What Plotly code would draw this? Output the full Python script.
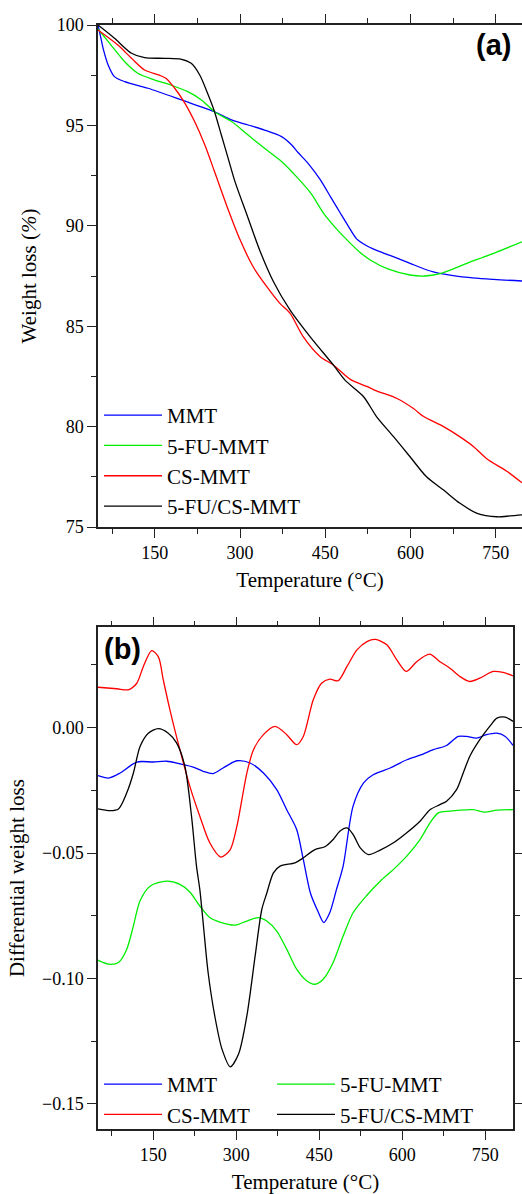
import plotly.graph_objects as go

# ---------------- data: panel (a) TGA ----------------
mmt_T = [50, 54, 59, 68, 79, 97, 138, 197, 255, 285, 314, 343, 373, 390, 402, 420, 441, 460,
         476, 490, 505, 525, 546, 575, 599, 640, 687, 746, 796]
mmt_W = [100, 99.5, 98.84, 98.0, 97.43, 97.18, 96.85, 96.27, 95.68, 95.27, 95.02, 94.77, 94.44,
         94.05, 93.65, 93.1, 92.3, 91.4, 90.65, 90.0, 89.35, 88.97, 88.71, 88.4, 88.13, 87.7,
         87.47, 87.33, 87.25]

fumt_T = [50, 73, 97, 120, 150, 179, 208, 232, 255, 285, 314, 343, 373, 402, 425, 447, 468, 488,
          510, 529, 560, 599, 625, 650, 699, 746, 796]
fumt_W = [99.8, 99.0, 98.17, 97.6, 97.26, 97.0, 96.68, 96.27, 95.68, 95.19, 94.52, 93.86, 93.2,
          92.36, 91.6, 90.62, 89.9, 89.3, 88.7, 88.3, 87.85, 87.55, 87.5, 87.6, 88.13, 88.63, 89.2]

cs_T = [50, 85, 109, 132, 158, 170, 185, 203, 220, 238, 255, 276, 300, 323, 347, 370, 388, 411,
        441, 464, 494, 523, 541, 576, 605, 623, 658, 681, 711, 734, 770, 796]
cs_W = [99.75, 99.0, 98.34, 97.76, 97.5, 97.34, 96.85, 96.1, 95.19, 94.02, 92.7, 91.04, 89.3,
        87.96, 86.97, 86.14, 85.64, 84.48, 83.48, 83.07, 82.35, 82.0, 81.77, 81.4, 80.9, 80.5,
        80.0, 79.6, 79.0, 78.4, 77.76, 77.2]

fucs_T = [50, 79, 109, 132, 167, 197, 214, 229, 244, 255, 267, 279, 291, 312, 335, 359, 388, 423,
          464, 485, 517, 540, 570, 599, 628, 658, 687, 717, 752, 775, 796]
fucs_W = [100, 99.34, 98.59, 98.37, 98.34, 98.29, 98.09, 97.51, 96.51, 95.68, 94.52, 93.36, 92.2,
          90.55, 88.75, 87.2, 85.8, 84.48, 83.07, 82.3, 81.5, 80.5, 79.5, 78.5, 77.5, 76.84,
          76.18, 75.68, 75.51, 75.55, 75.6]

# ---------------- data: panel (b) DTG ----------------
mmt_dT = [50, 69, 90, 120, 150, 174, 198, 222, 240, 258, 276, 301, 325, 349, 373, 391, 409, 421,
          434, 447, 458, 469, 481, 493, 511, 530, 548, 578, 608, 632, 656, 680, 701, 716, 734,
          752, 771, 786, 800]
mmt_D = [-0.0191, -0.0201, -0.0181, -0.0137, -0.0137, -0.0134, -0.0144, -0.0157, -0.0174,
         -0.0183, -0.0161, -0.0132, -0.0141, -0.0181, -0.0247, -0.0327, -0.0406, -0.0525,
         -0.0660, -0.0730, -0.0777, -0.0737, -0.0645, -0.0552, -0.0313, -0.0220, -0.0187,
         -0.0161, -0.0128, -0.0110, -0.0088, -0.0071, -0.0035, -0.0035, -0.0042, -0.0028,
         -0.0022, -0.0035, -0.0071]

fumt_dT = [50, 69, 87, 102, 114, 126, 144, 174, 198, 216, 234, 252, 270, 298, 319, 340, 355,
           373, 391, 409, 427, 442, 457, 475, 493, 511, 536, 560, 584, 608, 632, 650, 665, 686,
           704, 728, 749, 771, 800]
fumt_D = [-0.0927, -0.0943, -0.0936, -0.0883, -0.0790, -0.0690, -0.0632, -0.0612, -0.0625,
          -0.0655, -0.0711, -0.0757, -0.0775, -0.0787, -0.0771, -0.0757, -0.0771, -0.0811,
          -0.0883, -0.0963, -0.1009, -0.1023, -0.1003, -0.0936, -0.0831, -0.0738, -0.0668,
          -0.0612, -0.0565, -0.0512, -0.0446, -0.0380, -0.0340, -0.0333, -0.0329, -0.0327,
          -0.0337, -0.0329, -0.0327]

cs_dT = [50, 84, 105, 120, 132, 147, 159, 168, 180, 198, 216, 234, 252, 272, 289, 301, 319, 331,
         349, 370, 391, 409, 421, 439, 454, 469, 484, 500, 518, 536, 551, 572, 590, 607, 626,
         649, 668, 686, 704, 722, 740, 764, 782, 800]
cs_D = [0.0161, 0.0155, 0.0151, 0.0177, 0.0244, 0.0307, 0.0283, 0.0190, 0.0071, -0.0088,
        -0.0234, -0.0353, -0.0459, -0.0516, -0.0486, -0.0393, -0.0181, -0.0088, -0.0028,
        0.0005, -0.0028, -0.0068, -0.0035, 0.0111, 0.0177, 0.0193, 0.0187, 0.0244, 0.0310,
        0.0343, 0.0352, 0.0330, 0.0270, 0.0224, 0.0263, 0.0293, 0.0263, 0.0237, 0.0204,
        0.0184, 0.0197, 0.0224, 0.0220, 0.0206]

fucs_dT = [50, 72, 87, 102, 114, 126, 141, 159, 177, 192, 207, 219, 228, 234, 240, 249, 261,
           274, 289, 304, 319, 334, 346, 355, 367, 379, 406, 421, 442, 460, 475, 487, 500, 511,
           524, 539, 560, 584, 608, 632, 650, 668, 680, 698, 710, 722, 740, 759, 771, 786, 800]
fucs_D = [-0.0324, -0.0331, -0.0324, -0.0260, -0.0181, -0.0075, -0.0022, -0.0004, -0.0022,
          -0.0061, -0.0154, -0.0353, -0.0552, -0.0645, -0.0777, -0.0976, -0.1149, -0.1281,
          -0.1352, -0.1301, -0.1149, -0.0910, -0.0725, -0.0660, -0.0579, -0.0552, -0.0539,
          -0.0519, -0.0486, -0.0475, -0.0446, -0.0413, -0.0400, -0.0426, -0.0479, -0.0506,
          -0.0488, -0.0459, -0.0419, -0.0373, -0.0327, -0.0307, -0.0293, -0.0247, -0.0181,
          -0.0114, -0.0048, 0.0008, 0.0038, 0.0042, 0.0025]

names = ["MMT", "5-FU-MMT", "CS-MMT", "5-FU/CS-MMT"]
colors = ["#0000FF", "#00EE00", "#FF0000", "#000000"]
tga = [(mmt_T, mmt_W), (fumt_T, fumt_W), (cs_T, cs_W), (fucs_T, fucs_W)]
dtg = [(mmt_dT, mmt_D), (fumt_dT, fumt_D), (cs_dT, cs_D), (fucs_dT, fucs_D)]
# bottom legend: two columns (MMT / CS-MMT) and (5-FU-MMT / 5-FU/CS-MMT)
dtg_legend = ["legend2", "legend3", "legend2", "legend3"]

W, H = 522, 1194
SERIF = "Liberation Serif, Times New Roman, serif"

fig = go.Figure()
for n, c, (x, y) in zip(names, colors, tga):
    fig.add_trace(go.Scatter(x=x, y=y, mode="lines", name=n,
                             line=dict(color=c, width=1.3, shape="spline", smoothing=0.8),
                             xaxis="x", yaxis="y", legend="legend"))
for n, c, (x, y), lg in zip(names, colors, dtg, dtg_legend):
    fig.add_trace(go.Scatter(x=x, y=y, mode="lines", name=n,
                             line=dict(color=c, width=1.3, shape="spline", smoothing=0.8),
                             xaxis="x2", yaxis="y2", legend=lg))

tickfont = dict(family=SERIF, size=18, color="black")
titlefont = dict(family=SERIF, size=21, color="black")
legfont = dict(family=SERIF, size=21, color="black")
axcommon = dict(showgrid=False, zeroline=False, showline=True, linecolor="#222",
                linewidth=1.5, ticks="outside", ticklen=9, tickwidth=1.3, tickcolor="#222",
                tickfont=tickfont, automargin=False)

fig.update_layout(
    width=W, height=H, autosize=False,
    margin=dict(l=0, r=0, t=0, b=0),
    plot_bgcolor="white", paper_bgcolor="white",
    xaxis=dict(domain=[98 / W, 1.0], range=[50, 796], anchor="y", tick0=0, dtick=150,
               minor=dict(dtick=75, tick0=0, ticks="outside", ticklen=5, tickwidth=1.2,
                          tickcolor="#222"),
               mirror="ticks",
               title=dict(text="Temperature (°C)", font=titlefont, standoff=10), **axcommon),
    yaxis=dict(domain=[1 - 527 / H, 1 - 25 / H], range=[75, 100], anchor="x", dtick=5,
               minor=dict(dtick=2.5, ticks="outside", ticklen=5, tickwidth=1.2,
                          tickcolor="#222"),
               mirror=False,
               title=dict(text="Weight loss (<i>%</i>)", font=titlefont, standoff=14),
               **axcommon),
    xaxis2=dict(domain=[98 / W, 513 / W], range=[50, 800], anchor="y2", tick0=0, dtick=150,
                minor=dict(dtick=75, tick0=0, ticks="outside", ticklen=5, tickwidth=1.2,
                           tickcolor="#222"),
                mirror="ticks",
                title=dict(text="Temperature (°C)", font=titlefont, standoff=11), **axcommon),
    yaxis2=dict(domain=[1 - 1129 / H, 1 - 627.3 / H], range=[-0.16, 0.04], anchor="x2",
                dtick=0.05, tickformat=".2f",
                minor=dict(dtick=0.025, ticks="outside", ticklen=5, tickwidth=1.2,
                           tickcolor="#222"),
                mirror="ticks",
                title=dict(text="Differential weight loss", font=titlefont, standoff=12),
                **axcommon),
    legend=dict(x=99 / W, y=1 - 395 / H, xanchor="left", yanchor="top",
                bgcolor="rgba(0,0,0,0)", borderwidth=0, itemwidth=58,
                font=legfont, tracegroupgap=0),
    legend2=dict(x=99 / W, y=1 - 1064 / H, xanchor="left", yanchor="top",
                 bgcolor="rgba(0,0,0,0)", borderwidth=0, itemwidth=58,
                 font=legfont, tracegroupgap=0),
    legend3=dict(x=272 / W, y=1 - 1064 / H, xanchor="left", yanchor="top",
                 bgcolor="rgba(0,0,0,0)", borderwidth=0, itemwidth=58,
                 font=legfont, tracegroupgap=0),
    annotations=[
        dict(text="<b>(a)</b>", x=513 / W, y=1 - 45 / H, xref="paper", yref="paper",
             xanchor="right", yanchor="middle", showarrow=False,
             font=dict(family="Liberation Sans, Arial, sans-serif", size=29, color="black")),
        dict(text="<b>(b)</b>", x=102 / W, y=1 - 649 / H, xref="paper", yref="paper",
             xanchor="left", yanchor="middle", showarrow=False,
             font=dict(family="Liberation Sans, Arial, sans-serif", size=29, color="black")),
    ],
)

fig.write_html("out.html",
               config={"responsive": False, "displayModeBar": False},
               post_script="document.body.style.margin='0';document.body.style.overflow='hidden';")
